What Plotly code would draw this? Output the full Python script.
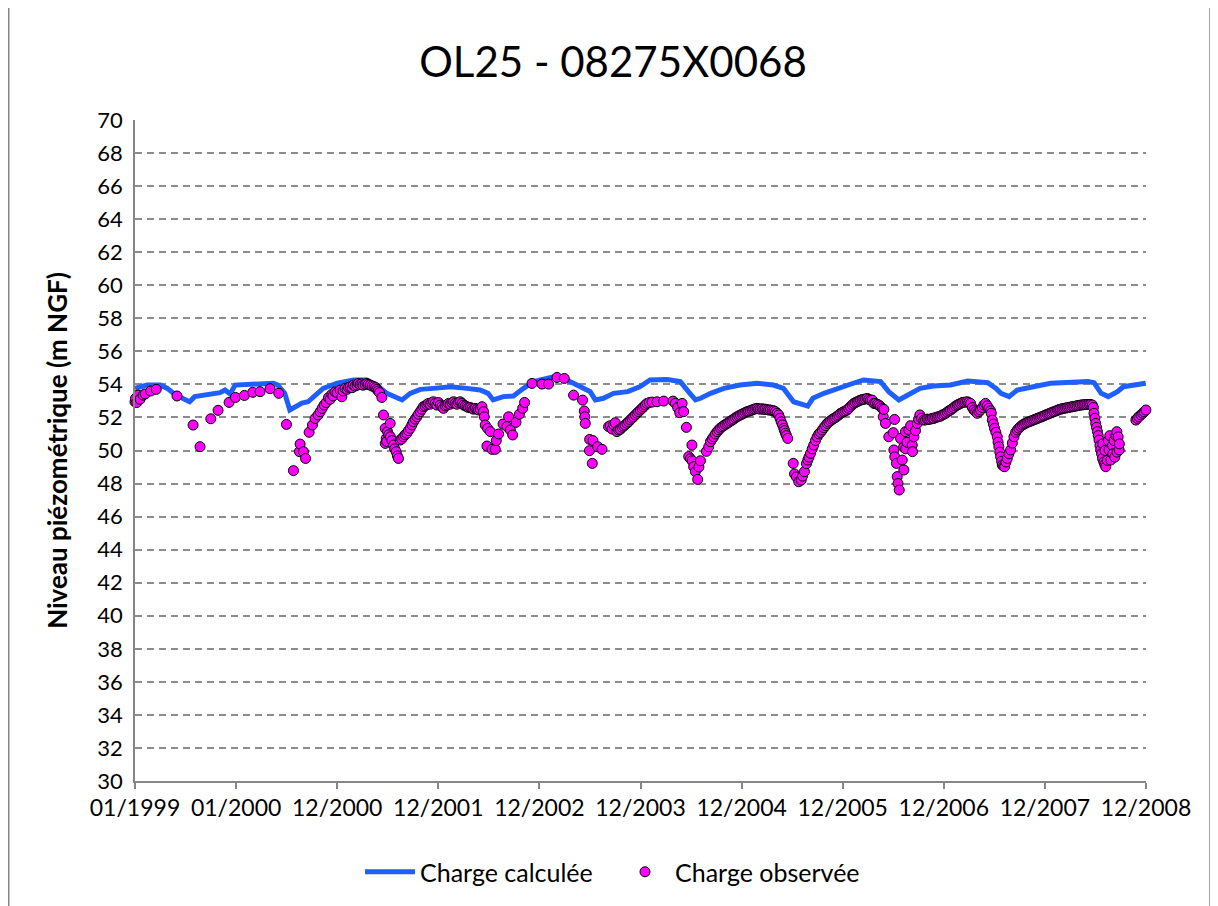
import numpy as np
import pandas as pd
import plotly.graph_objects as go

# ---------------- data ----------------
title_text = "OL25 - 08275X0068"
y_title = "Niveau piézométrique (m NGF)"
tick_labels = ["01/1999", "01/2000", "12/2000", "12/2001", "12/2002", "12/2003",
               "12/2004", "12/2005", "12/2006", "12/2007", "12/2008"]

# Charge calculée (decimal year, m NGF)
calc_year = [1999.00, 1999.12, 1999.25, 1999.32, 1999.40, 1999.54, 1999.59, 1999.71, 1999.84, 1999.89,
             1999.94, 1999.99, 2000.11, 2000.37, 2000.41, 2000.48, 2000.53, 2000.58, 2000.65, 2000.71,
             2000.80, 2000.86, 2001.00, 2001.16, 2001.29, 2001.39, 2001.49, 2001.64, 2001.72, 2001.82,
             2001.95, 2002.12, 2002.28, 2002.41, 2002.49, 2002.54, 2002.64, 2002.74, 2002.84, 2002.94,
             2003.08, 2003.17, 2003.27, 2003.40, 2003.50, 2003.55, 2003.63, 2003.73, 2003.87, 2003.99,
             2004.09, 2004.26, 2004.39, 2004.47, 2004.54, 2004.59, 2004.69, 2004.82, 2004.98, 2005.15,
             2005.31, 2005.41, 2005.51, 2005.65, 2005.70, 2005.81, 2005.94, 2006.10, 2006.20, 2006.37,
             2006.45, 2006.55, 2006.64, 2006.76, 2006.89, 2007.06, 2007.23, 2007.43, 2007.51, 2007.56,
             2007.64, 2007.72, 2007.88, 2008.05, 2008.42, 2008.48, 2008.55, 2008.62, 2008.71, 2008.77,
             2008.99]
calc_level = [53.76, 53.96, 53.96, 53.76, 53.36, 52.95, 53.26, 53.36, 53.50, 53.66,
              53.42, 53.96, 54.00, 54.07, 53.96, 53.46, 52.45, 52.60, 52.87, 52.95,
              53.46, 53.76, 54.07, 54.27, 54.27, 53.96, 53.46, 53.06, 53.46, 53.70,
              53.76, 53.86, 53.76, 53.66, 53.46, 53.06, 53.26, 53.30, 53.76, 54.17,
              54.37, 54.50, 54.27, 53.86, 53.56, 53.06, 53.16, 53.46, 53.56, 53.86,
              54.27, 54.30, 54.17, 53.56, 53.06, 53.16, 53.46, 53.76, 53.96, 54.07,
              53.96, 53.76, 52.95, 52.69, 53.16, 53.46, 53.76, 54.07, 54.27, 54.17,
              53.56, 53.06, 53.36, 53.76, 53.90, 53.96, 54.20, 54.10, 53.76, 53.46,
              53.26, 53.66, 53.86, 54.07, 54.17, 54.10, 53.46, 53.26, 53.56, 53.86,
              54.07]

# Charge observée (decimal year, m NGF)
obs_year = [
    1999.000, 1999.005, 1999.017, 1999.030, 1999.050, 1999.080, 1999.100, 1999.155, 1999.210, 1999.415,
    1999.574, 1999.643, 1999.749, 1999.821, 1999.930, 1999.993,
    2000.081, 2000.164, 2000.236, 2000.335, 2000.421, 2000.497, 2000.566, 2000.625, 2000.632, 2000.665,
    2000.686, 2000.721, 2000.754, 2000.780, 2000.810, 2000.830, 2000.850, 2000.869, 2000.889, 2000.912,
    2000.929, 2000.946, 2000.958, 2000.978, 2000.998,
    2001.028, 2001.045, 2001.057, 2001.077, 2001.097, 2001.110, 2001.127, 2001.146, 2001.159, 2001.176,
    2001.196, 2001.209, 2001.226, 2001.243, 2001.255, 2001.275, 2001.292, 2001.305, 2001.324, 2001.344,
    2001.364, 2001.379, 2001.391, 2001.404, 2001.417, 2001.440, 2001.456, 2001.473, 2001.474, 2001.483,
    2001.488, 2001.496, 2001.508, 2001.522, 2001.524, 2001.539, 2001.555, 2001.567, 2001.581, 2001.594,
    2001.604, 2001.621, 2001.636, 2001.654, 2001.670, 2001.687, 2001.703, 2001.720, 2001.737, 2001.752,
    2001.769, 2001.786, 2001.802, 2001.819, 2001.835, 2001.851, 2001.868, 2001.885, 2001.901, 2001.917,
    2001.934, 2001.950, 2001.967, 2001.984,
    2002.000, 2002.017, 2002.034, 2002.049, 2002.066, 2002.083, 2002.099, 2002.116, 2002.133, 2002.149,
    2002.165, 2002.182, 2002.198, 2002.215, 2002.232, 2002.248, 2002.265, 2002.282, 2002.297, 2002.314,
    2002.331, 2002.347, 2002.363, 2002.380, 2002.396, 2002.413, 2002.430, 2002.445, 2002.452, 2002.462,
    2002.479, 2002.485, 2002.512, 2002.529, 2002.561, 2002.571, 2002.594, 2002.638, 2002.677, 2002.693,
    2002.710, 2002.733, 2002.766, 2002.799, 2002.832, 2002.851, 2002.924,
    2003.023, 2003.088, 2003.171, 2003.243, 2003.335, 2003.424, 2003.441, 2003.446, 2003.451, 2003.494,
    2003.492, 2003.520, 2003.527, 2003.573, 2003.616, 2003.681, 2003.698, 2003.715, 2003.731, 2003.747,
    2003.764, 2003.780, 2003.797, 2003.814, 2003.830, 2003.846, 2003.863, 2003.879, 2003.896, 2003.912,
    2003.928, 2003.945, 2003.962, 2003.978, 2003.995,
    2004.012, 2004.028, 2004.045, 2004.061, 2004.084, 2004.111, 2004.160, 2004.226, 2004.318, 2004.341,
    2004.364, 2004.384, 2004.408, 2004.423, 2004.450, 2004.473, 2004.490, 2004.507, 2004.505, 2004.522,
    2004.539, 2004.562, 2004.574, 2004.589, 2004.648, 2004.671, 2004.688, 2004.705, 2004.720, 2004.737,
    2004.754, 2004.770, 2004.786, 2004.803, 2004.819, 2004.836, 2004.853, 2004.869, 2004.886, 2004.902,
    2004.918, 2004.935, 2004.952, 2004.968, 2004.984,
    2005.001, 2005.017, 2005.034, 2005.050, 2005.066, 2005.083, 2005.100, 2005.116, 2005.133, 2005.149,
    2005.165, 2005.182, 2005.199, 2005.215, 2005.231, 2005.248, 2005.264, 2005.281, 2005.298, 2005.314,
    2005.330, 2005.347, 2005.363, 2005.375, 2005.387, 2005.400, 2005.413, 2005.420, 2005.430, 2005.439,
    2005.452, 2005.506, 2005.519, 2005.538, 2005.561, 2005.585, 2005.598, 2005.617, 2005.637, 2005.650,
    2005.662, 2005.677, 2005.694, 2005.709, 2005.726, 2005.743, 2005.759, 2005.776, 2005.793, 2005.809,
    2005.826, 2005.842, 2005.858, 2005.875, 2005.892, 2005.908, 2005.925, 2005.941, 2005.957, 2005.974,
    2005.991,
    2006.006, 2006.023, 2006.040, 2006.055, 2006.072, 2006.089, 2006.105, 2006.122, 2006.138, 2006.154,
    2006.171, 2006.188, 2006.204, 2006.221, 2006.238, 2006.253, 2006.270, 2006.287, 2006.303, 2006.320,
    2006.337, 2006.352, 2006.369, 2006.386, 2006.396, 2006.402, 2006.418, 2006.451, 2006.495, 2006.501,
    2006.508, 2006.510, 2006.527, 2006.534, 2006.542, 2006.554, 2006.567, 2006.584, 2006.597, 2006.600,
    2006.616, 2006.618, 2006.631, 2006.649, 2006.666, 2006.683, 2006.685, 2006.699, 2006.715, 2006.732,
    2006.745, 2006.758, 2006.775, 2006.797, 2006.814, 2006.831, 2006.847, 2006.864, 2006.880, 2006.897,
    2006.914, 2006.930, 2006.946, 2006.963, 2006.980, 2006.996,
    2007.012, 2007.029, 2007.045, 2007.061, 2007.078, 2007.094, 2007.111, 2007.128, 2007.143, 2007.160,
    2007.177, 2007.193, 2007.210, 2007.227, 2007.242, 2007.259, 2007.276, 2007.292, 2007.309, 2007.325,
    2007.341, 2007.358, 2007.375, 2007.391, 2007.407, 2007.424, 2007.440, 2007.457, 2007.464, 2007.474,
    2007.485, 2007.496, 2007.509, 2007.523, 2007.531, 2007.539, 2007.548, 2007.556, 2007.566, 2007.573,
    2007.586, 2007.596, 2007.609, 2007.622, 2007.638, 2007.655, 2007.672, 2007.688, 2007.705, 2007.721,
    2007.737, 2007.754, 2007.771, 2007.787, 2007.804, 2007.820, 2007.836, 2007.853, 2007.870, 2007.886,
    2007.903, 2007.919, 2007.935, 2007.952, 2007.969, 2007.985,
    2008.001, 2008.018, 2008.034, 2008.050, 2008.066, 2008.083, 2008.100, 2008.117, 2008.132, 2008.149,
    2008.166, 2008.182, 2008.199, 2008.215, 2008.231, 2008.248, 2008.265, 2008.281, 2008.298, 2008.314,
    2008.330, 2008.347, 2008.364, 2008.380, 2008.397, 2008.414, 2008.430, 2008.446, 2008.463, 2008.473,
    2008.479, 2008.488, 2008.496, 2008.504, 2008.513, 2008.521, 2008.529, 2008.538, 2008.546, 2008.554,
    2008.563, 2008.566, 2008.576, 2008.586, 2008.588, 2008.596, 2008.612, 2008.620, 2008.628, 2008.635,
    2008.645, 2008.662, 2008.665, 2008.678, 2008.685, 2008.695, 2008.705, 2008.707, 2008.718, 2008.728,
    2008.730, 2008.893, 2008.908, 2008.923, 2008.943, 2008.960, 2008.975, 2008.992]
obs_level = [
    52.95, 53.15, 52.90, 53.35, 53.10, 53.35, 53.42, 53.60, 53.70, 53.30,
    51.54, 50.23, 51.92, 52.43, 52.91, 53.21,
    53.33, 53.52, 53.56, 53.74, 53.46, 51.58, 48.78, 49.93, 50.39, 49.93,
    49.52, 51.10, 51.54, 51.94, 52.15, 52.35, 52.55, 52.75, 52.90, 53.20,
    53.10, 53.40, 53.30, 53.55, 53.50,
    53.65, 53.25, 53.60, 53.76, 53.70, 53.82, 53.85, 53.80, 53.96, 53.90,
    53.95, 54.06, 54.00, 54.03, 53.95, 54.00, 54.06, 54.00, 53.96, 53.90,
    53.86, 53.80, 53.70, 53.60, 53.50, 53.21, 52.15, 51.34, 50.43, 50.73,
    50.55, 51.14, 50.95, 51.64, 50.83, 50.60, 50.33, 50.10, 49.93, 49.67,
    49.52, 50.63, 50.70, 50.83, 50.95, 51.04, 51.20, 51.34, 51.55, 51.74,
    51.90, 52.04, 52.20, 52.35, 52.50, 52.65, 52.70, 52.78, 52.85, 52.80,
    52.90, 52.95, 52.85, 52.75,
    52.90, 52.75, 52.65, 52.55, 52.70, 52.75, 52.85, 52.80, 52.89, 52.95,
    52.85, 52.80, 52.90, 52.95, 52.85, 52.75, 52.70, 52.65, 52.60, 52.60,
    52.55, 52.50, 52.55, 52.50, 52.45, 52.50, 52.65, 52.35, 52.04, 51.54,
    50.27, 51.34, 51.14, 50.07, 50.07, 50.60, 51.00, 51.60, 51.45, 52.04,
    51.24, 50.94, 51.70, 52.19, 52.55, 52.91, 54.06,
    54.02, 54.02, 54.42, 54.36, 53.35, 53.05, 52.39, 52.04, 51.64, 50.67,
    49.99, 49.22, 50.60, 50.23, 50.07, 51.44, 51.50, 51.30, 51.55, 51.68,
    51.14, 51.25, 51.28, 51.40, 51.48, 51.55, 51.65, 51.74, 51.85, 51.95,
    52.04, 52.15, 52.25, 52.35, 52.45,
    52.55, 52.65, 52.75, 52.85, 52.90, 52.93, 52.95, 52.99, 52.99, 52.85,
    52.60, 52.29, 52.85, 52.35, 51.40, 49.63, 49.50, 49.38, 50.33, 49.02,
    48.72, 48.25, 49.00, 49.38, 49.95, 50.23, 50.53, 50.70, 50.83, 51.00,
    51.14, 51.25, 51.35, 51.44, 51.50, 51.58, 51.64, 51.70, 51.78, 51.84,
    51.90, 51.98, 52.04, 52.10, 52.15,
    52.20, 52.25, 52.30, 52.35, 52.38, 52.41, 52.45, 52.50, 52.52, 52.55,
    52.52, 52.50, 52.53, 52.49, 52.50, 52.47, 52.45, 52.45, 52.42, 52.40,
    52.35, 52.25, 52.15, 51.95, 51.74, 51.55, 51.34, 51.20, 51.04, 50.90,
    50.73, 49.22, 48.58, 48.40, 48.11, 48.21, 48.45, 48.72, 49.20, 49.42,
    49.60, 49.83, 50.10, 50.33, 50.60, 50.83, 51.00, 51.10, 51.24, 51.38,
    51.50, 51.64, 51.72, 51.80, 51.88, 51.94, 52.00, 52.08, 52.15, 52.25,
    52.30,
    52.35, 52.40, 52.45, 52.55, 52.65, 52.75, 52.85, 52.90, 52.95, 53.00,
    53.05, 53.08, 53.10, 53.12, 53.15, 53.10, 53.05, 53.05, 52.85, 52.85,
    52.80, 52.75, 52.65, 52.55, 52.04, 52.49, 51.64, 50.83, 51.08, 50.03,
    51.88, 49.62, 49.22, 48.42, 48.00, 47.61, 50.73, 49.42, 50.20, 48.82,
    51.14, 50.10, 50.50, 51.24, 51.50, 50.33, 49.93, 50.83, 51.20, 51.64,
    51.90, 52.15, 51.95, 51.84, 51.85, 51.90, 51.88, 51.90, 51.95, 51.94,
    52.00, 52.02, 52.05, 52.08, 52.15, 52.20,
    52.25, 52.32, 52.40, 52.45, 52.52, 52.60, 52.69, 52.75, 52.80, 52.85,
    52.90, 52.92, 52.93, 52.95, 52.90, 52.85, 52.60, 52.45, 52.35, 52.25,
    52.35, 52.45, 52.60, 52.75, 52.85, 52.70, 52.55, 52.40, 52.25, 51.84,
    51.60, 51.34, 51.10, 50.83, 50.50, 50.23, 49.90, 49.62, 49.35, 49.12,
    49.05, 49.02, 49.30, 49.52, 49.80, 50.03, 50.45, 50.83, 51.10, 51.24,
    51.35, 51.45, 51.54, 51.60, 51.65, 51.70, 51.74, 51.78, 51.82, 51.86,
    51.90, 51.94, 51.98, 52.02, 52.06, 52.10,
    52.15, 52.19, 52.23, 52.27, 52.31, 52.35, 52.39, 52.43, 52.47, 52.50,
    52.53, 52.55, 52.57, 52.59, 52.61, 52.63, 52.65, 52.67, 52.69, 52.71,
    52.73, 52.75, 52.76, 52.77, 52.78, 52.78, 52.79, 52.79, 52.75, 52.60,
    52.25, 51.95, 51.64, 51.40, 51.14, 50.90, 50.63, 50.30, 50.03, 49.80,
    49.52, 50.40, 49.30, 49.15, 50.00, 49.02, 49.40, 50.60, 50.03, 50.90,
    49.42, 50.30, 49.80, 50.60, 49.60, 50.90, 51.14, 49.90, 50.83, 50.03,
    50.40, 51.84, 51.95, 52.05, 52.15, 52.25, 52.35, 52.45]

# ---------------- helpers ----------------
origin = pd.Timestamp("1999-01-01")


def to_dates(years):
    return origin + pd.to_timedelta((np.asarray(years) - 1999.0) * 365.25, unit="D")


tick_dates = [origin + pd.Timedelta(days=365 * k) for k in range(len(tick_labels))]
x_end = tick_dates[-1]

FONT = "Lato, 'Open Sans', sans-serif"
W, H = 1210, 898
ML, MR, MT, MB = 127, 72, 112, 125
PW, PH = W - ML - MR, H - MT - MB


def px_x(p):
    return (p - ML) / PW


def px_y(p):
    return (MT + PH - p) / PH


fig = go.Figure()
fig.add_trace(go.Scatter(
    x=to_dates(calc_year), y=calc_level, mode="lines", name="Charge calculée",
    line=dict(color="#1F5EFF", width=5),
))
fig.add_trace(go.Scatter(
    x=to_dates(obs_year), y=obs_level, mode="markers", name="Charge observée",
    marker=dict(color="#FF00FF", size=10, line=dict(color="black", width=1)),
    cliponaxis=False,
))

border = dict(color="#868686", width=1.5)
fig.update_layout(
    width=W, height=H,
    paper_bgcolor="white", plot_bgcolor="white",
    margin=dict(l=ML, r=MR, t=MT, b=MB, autoexpand=False),
    font=dict(family=FONT, color="black"),
    title=dict(text=title_text, x=0.5, xref="container", xanchor="center",
               y=1 - 54 / H, yref="container", yanchor="middle",
               font=dict(size=42, family=FONT, color="black")),
    showlegend=True,
    legend=dict(orientation="h", x=352 / W, xref="container", xanchor="left",
                y=1 - 864 / H, yref="container", yanchor="middle",
                font=dict(size=25, family=FONT), itemwidth=50, entrywidth=190,
                bgcolor="rgba(0,0,0,0)"),
    shapes=[
        dict(type="line", xref="paper", yref="paper", x0=px_x(0.75), x1=px_x(0.75),
             y0=px_y(-20), y1=px_y(H + 20), line=border, layer="below"),
        dict(type="line", xref="paper", yref="paper", x0=px_x(1202), x1=px_x(1202),
             y0=px_y(-20), y1=px_y(H + 20), line=border, layer="below"),
    ],
)

fig.update_xaxes(
    type="date", range=[origin, x_end],
    tickvals=tick_dates, ticktext=tick_labels,
    showgrid=False, showline=True, linecolor="#868686", linewidth=1.5,
    ticks="outside", ticklen=6, tickcolor="#868686", tickwidth=1.5,
    tickfont=dict(size=23, family=FONT, color="black"),
    zeroline=False,
)
fig.update_yaxes(
    range=[30, 70], dtick=2, tick0=30,
    showgrid=True, gridcolor="#8C8C8C", gridwidth=1.5, griddash="7px,5px",
    showline=True, linecolor="#868686", linewidth=1.5,
    ticks="", ticklabelstandoff=6, tickfont=dict(size=22, family=FONT, color="black"),
    title=dict(text="<b>" + y_title + "</b>", font=dict(size=26, family=FONT, color="black"),
               standoff=22),
    zeroline=False,
)

fig.write_html("out.html")
